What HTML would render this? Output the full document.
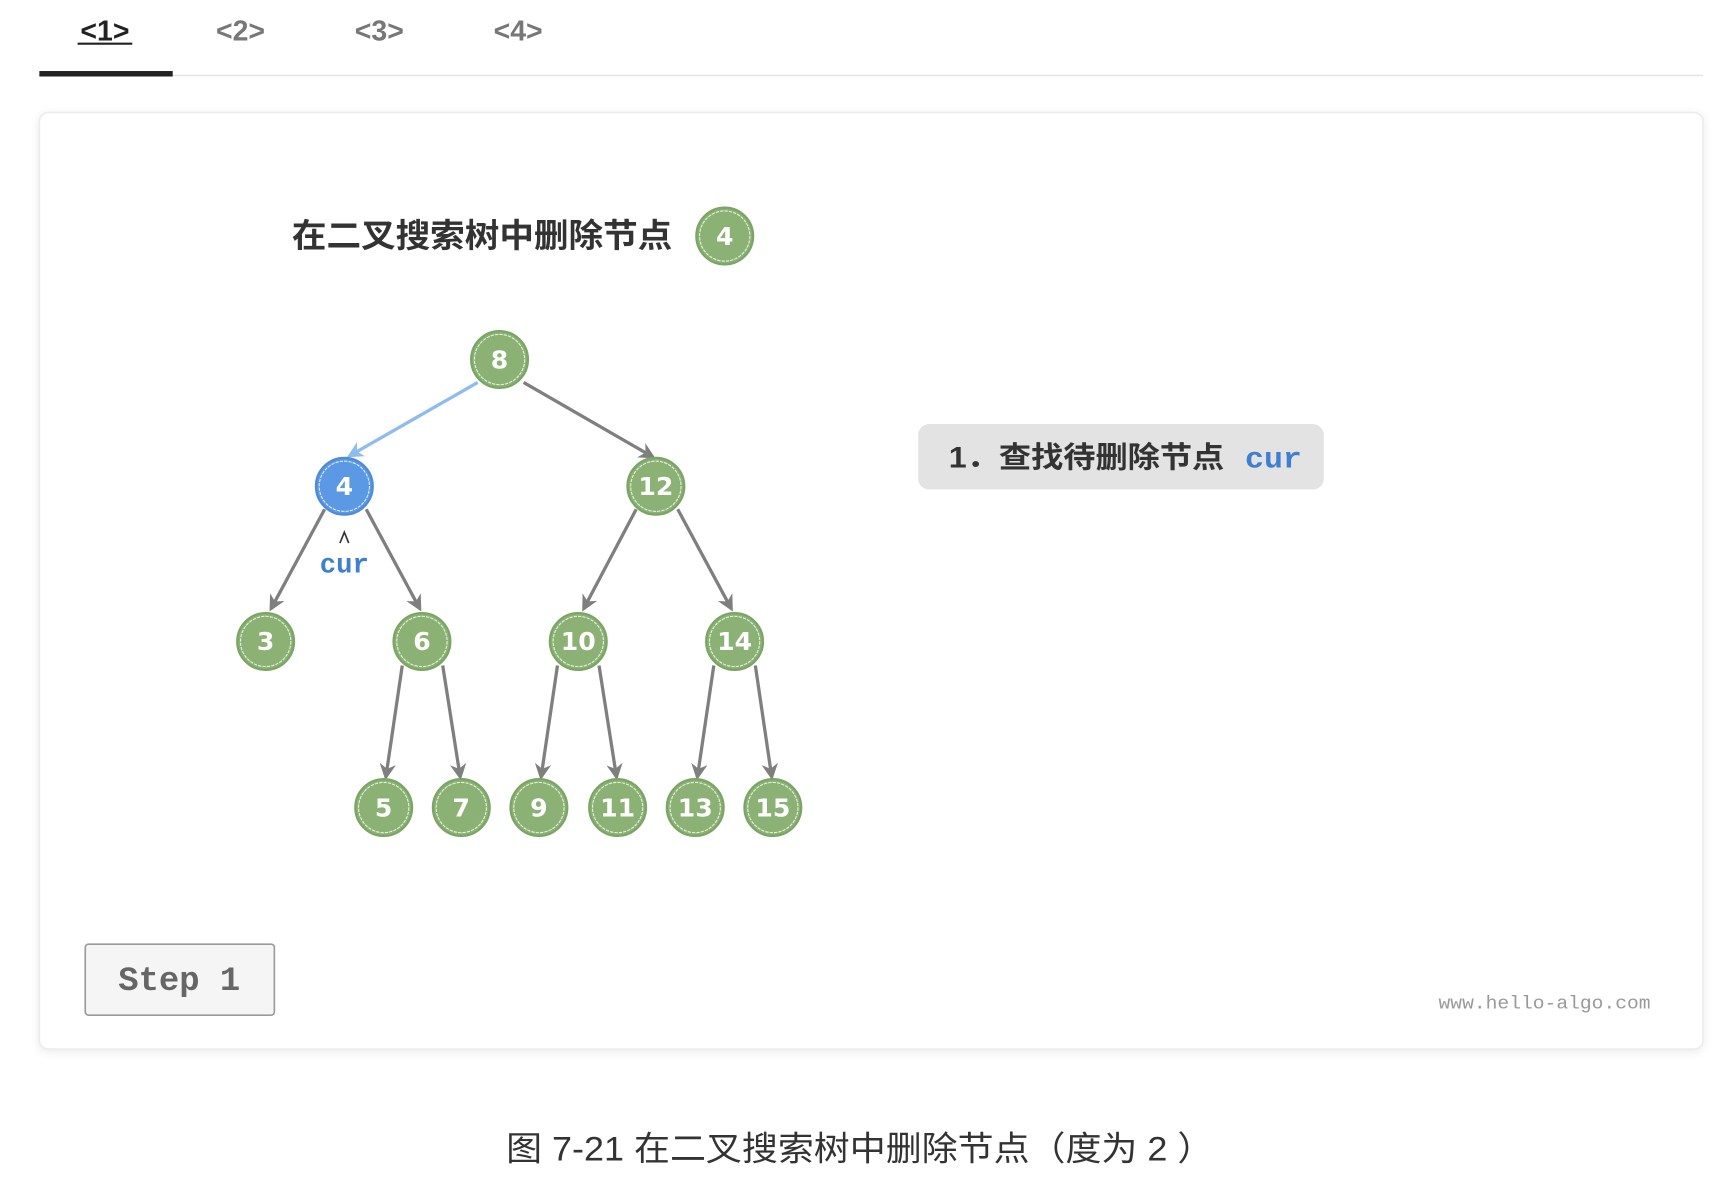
<!DOCTYPE html>
<html><head><meta charset="utf-8"><style>
html,body{margin:0;padding:0;background:#fff;width:1714px;height:1178px;overflow:hidden}
svg{display:block}
.sans{font-family:"Liberation Sans","Noto Sans CJK SC",sans-serif}
.mono{font-family:"Liberation Mono","DejaVu Sans Mono",monospace}
</style></head><body>
<svg width="1714" height="1178" viewBox="0 0 1568 1078" preserveAspectRatio="none" xmlns="http://www.w3.org/2000/svg">
<defs>
<marker id="ag" viewBox="0 0 10 10" refX="8" refY="5" markerWidth="5" markerHeight="5" orient="auto"><path d="M0,0 L10,5 L0,10 L3,5 z" fill="#7f7f7f"/></marker>
<marker id="ab" viewBox="0 0 10 10" refX="8" refY="5" markerWidth="5" markerHeight="5" orient="auto"><path d="M0,0 L10,5 L0,10 L3,5 z" fill="#8fbcef"/></marker>
<filter id="sh" x="-5%" y="-5%" width="110%" height="110%"><feDropShadow dx="0" dy="2" stdDeviation="4" flood-color="#000" flood-opacity="0.08"/></filter>
</defs>
<line x1="36" y1="69" x2="1558" y2="69" stroke="#e6e6e6" stroke-width="1.5"/>
<rect x="36" y="65" width="122" height="5" fill="#222"/>
<g class="sans" font-size="26" text-anchor="middle" font-weight="bold">
<text x="96" y="37" fill="#222">&lt;1&gt;</text>
<line x1="71" y1="40" x2="121" y2="40" stroke="#222" stroke-width="2"/>
<text x="220" y="37" fill="#777">&lt;2&gt;</text>
<text x="347" y="37" fill="#777">&lt;3&gt;</text>
<text x="474" y="37" fill="#777">&lt;4&gt;</text>
</g>
<rect x="36" y="103" width="1522" height="857" rx="8" fill="#fff" stroke="#ececec" stroke-width="1.5" filter="url(#sh)"/>
<text x="267" y="226" class="sans" font-size="30" font-weight="bold" fill="#333" textLength="348" lengthAdjust="spacingAndGlyphs">在二叉搜索树中删除节点</text>
<g stroke="#7f7f7f" stroke-width="3" fill="none" marker-end="url(#ag)">
<line x1="479" y1="350" x2="597" y2="418"/>
<line x1="297" y1="466" x2="248" y2="557"/>
<line x1="335" y1="466" x2="384" y2="557"/>
<line x1="582" y1="466" x2="534" y2="557"/>
<line x1="620" y1="466" x2="669" y2="557"/>
<line x1="368" y1="609" x2="353" y2="711"/>
<line x1="405" y1="609" x2="421" y2="711"/>
<line x1="510" y1="609" x2="495" y2="711"/>
<line x1="548" y1="609" x2="564" y2="711"/>
<line x1="653" y1="609" x2="638" y2="711"/>
<line x1="691" y1="609" x2="706" y2="711"/>
</g>
<line x1="437" y1="350" x2="320" y2="417" stroke="#8fbcef" stroke-width="3" marker-end="url(#ab)"/>
<g font-family="DejaVu Sans,Liberation Sans,sans-serif" font-size="23" font-weight="bold" text-anchor="middle">
<g><circle cx="663" cy="216" r="26" fill="#8bb174" stroke="#7aa565" stroke-width="2"/><circle cx="663" cy="216" r="23" fill="none" stroke="#fff" stroke-width="1" stroke-dasharray="3 1" opacity="0.8"/><text x="663" y="224" fill="#fff">4</text></g>
<g><circle cx="457" cy="329" r="26" fill="#8bb174" stroke="#7aa565" stroke-width="2"/><circle cx="457" cy="329" r="23" fill="none" stroke="#fff" stroke-width="1" stroke-dasharray="3 1" opacity="0.8"/><text x="457" y="337" fill="#fff">8</text></g>
<g><circle cx="315" cy="445" r="26" fill="#5b99e4" stroke="#4f8ad8" stroke-width="2"/><circle cx="315" cy="445" r="23" fill="none" stroke="#fff" stroke-width="1" stroke-dasharray="3 1" opacity="0.8"/><text x="315" y="453" fill="#fff">4</text></g>
<g><circle cx="600" cy="445" r="26" fill="#8bb174" stroke="#7aa565" stroke-width="2"/><circle cx="600" cy="445" r="23" fill="none" stroke="#fff" stroke-width="1" stroke-dasharray="3 1" opacity="0.8"/><text x="600" y="453" fill="#fff">12</text></g>
<g><circle cx="243" cy="587" r="26" fill="#8bb174" stroke="#7aa565" stroke-width="2"/><circle cx="243" cy="587" r="23" fill="none" stroke="#fff" stroke-width="1" stroke-dasharray="3 1" opacity="0.8"/><text x="243" y="595" fill="#fff">3</text></g>
<g><circle cx="386" cy="587" r="26" fill="#8bb174" stroke="#7aa565" stroke-width="2"/><circle cx="386" cy="587" r="23" fill="none" stroke="#fff" stroke-width="1" stroke-dasharray="3 1" opacity="0.8"/><text x="386" y="595" fill="#fff">6</text></g>
<g><circle cx="529" cy="587" r="26" fill="#8bb174" stroke="#7aa565" stroke-width="2"/><circle cx="529" cy="587" r="23" fill="none" stroke="#fff" stroke-width="1" stroke-dasharray="3 1" opacity="0.8"/><text x="529" y="595" fill="#fff">10</text></g>
<g><circle cx="672" cy="587" r="26" fill="#8bb174" stroke="#7aa565" stroke-width="2"/><circle cx="672" cy="587" r="23" fill="none" stroke="#fff" stroke-width="1" stroke-dasharray="3 1" opacity="0.8"/><text x="672" y="595" fill="#fff">14</text></g>
<g><circle cx="351" cy="739" r="26" fill="#8bb174" stroke="#7aa565" stroke-width="2"/><circle cx="351" cy="739" r="23" fill="none" stroke="#fff" stroke-width="1" stroke-dasharray="3 1" opacity="0.8"/><text x="351" y="747" fill="#fff">5</text></g>
<g><circle cx="422" cy="739" r="26" fill="#8bb174" stroke="#7aa565" stroke-width="2"/><circle cx="422" cy="739" r="23" fill="none" stroke="#fff" stroke-width="1" stroke-dasharray="3 1" opacity="0.8"/><text x="422" y="747" fill="#fff">7</text></g>
<g><circle cx="493" cy="739" r="26" fill="#8bb174" stroke="#7aa565" stroke-width="2"/><circle cx="493" cy="739" r="23" fill="none" stroke="#fff" stroke-width="1" stroke-dasharray="3 1" opacity="0.8"/><text x="493" y="747" fill="#fff">9</text></g>
<g><circle cx="565" cy="739" r="26" fill="#8bb174" stroke="#7aa565" stroke-width="2"/><circle cx="565" cy="739" r="23" fill="none" stroke="#fff" stroke-width="1" stroke-dasharray="3 1" opacity="0.8"/><text x="565" y="747" fill="#fff">11</text></g>
<g><circle cx="636" cy="739" r="26" fill="#8bb174" stroke="#7aa565" stroke-width="2"/><circle cx="636" cy="739" r="23" fill="none" stroke="#fff" stroke-width="1" stroke-dasharray="3 1" opacity="0.8"/><text x="636" y="747" fill="#fff">13</text></g>
<g><circle cx="707" cy="739" r="26" fill="#8bb174" stroke="#7aa565" stroke-width="2"/><circle cx="707" cy="739" r="23" fill="none" stroke="#fff" stroke-width="1" stroke-dasharray="3 1" opacity="0.8"/><text x="707" y="747" fill="#fff">15</text></g>
</g>
<path d="M311,497 L315,487 L319,497" fill="none" stroke="#333" stroke-width="1.5"/>
<text x="315" y="524" class="mono" font-size="25" font-weight="bold" fill="#3f7fd0" text-anchor="middle">cur</text>
<rect x="840" y="388" width="371" height="60" rx="10" fill="#e3e3e3"/>
<text x="868" y="428" class="sans" font-size="27" font-weight="bold" fill="#333" textLength="252" lengthAdjust="spacingAndGlyphs">1．查找待删除节点</text>
<text x="1139" y="428" class="mono" font-size="27" font-weight="bold" fill="#3f7fd0" textLength="52" lengthAdjust="spacingAndGlyphs">cur</text>
<rect x="78" y="864" width="173" height="65" rx="3" fill="#f5f5f5" stroke="#9a9a9a" stroke-width="1.5"/>
<text x="164" y="906" class="mono" font-size="31" font-weight="bold" fill="#666" text-anchor="middle">Step 1</text>
<text x="1510" y="923" class="mono" font-size="17" fill="#999" text-anchor="end" textLength="194" lengthAdjust="spacingAndGlyphs">www.hello-algo.com</text>
<text x="463" y="1062" class="sans" font-size="31" fill="#333" textLength="647" lengthAdjust="spacingAndGlyphs">图 7-21  在二叉搜索树中删除节点（度为 2 ）</text>
</svg>
</body></html>
